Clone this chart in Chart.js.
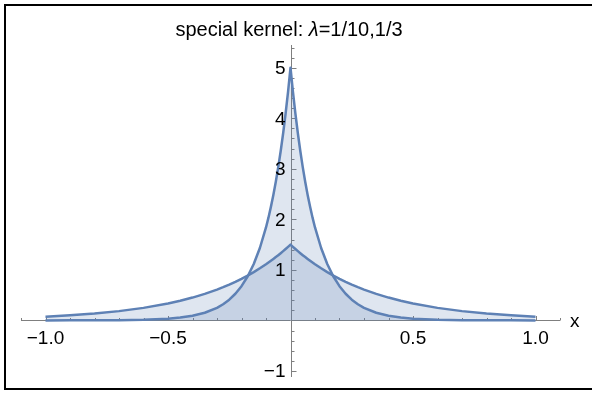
<!DOCTYPE html>
<html>
<head>
<meta charset="utf-8">
<script src="https://cdn.jsdelivr.net/npm/chart.js@4.4.1/dist/chart.umd.min.js"></script>
<style>
    html, body { margin: 0; padding: 0; background: #fff; }
    #wrap { width: 592px; height: 393px; }
</style>
</head>
<body>
<div id="wrap"><canvas id="kernelChart" width="592" height="393"></canvas></div>
<script>
// sample positions along x
const xs = [-1, -0.9, -0.8, -0.7, -0.6, -0.5, -0.45, -0.4, -0.35, -0.3, -0.275, -0.25, -0.225, -0.2,
    -0.175, -0.15, -0.125, -0.1, -0.09, -0.08, -0.07, -0.06, -0.05, -0.04, -0.03, -0.02, -0.01, 0,
    0.01, 0.02, 0.03, 0.04, 0.05, 0.06, 0.07, 0.08, 0.09, 0.1, 0.125, 0.15, 0.175, 0.2,
    0.225, 0.25, 0.275, 0.3, 0.35, 0.4, 0.45, 0.5, 0.6, 0.7, 0.8, 0.9, 1];

// lambda = 1/10 (tall narrow peak)
const narrowKernel = [0.0002, 0.0006, 0.0017, 0.0046, 0.0124, 0.0337, 0.0555, 0.0916, 0.151, 0.249, 0.320, 0.410, 0.527, 0.677,
    0.869, 1.116, 1.433, 1.839, 2.033, 2.247, 2.483, 2.744, 3.033, 3.352, 3.704, 4.094, 4.524, 5,
    4.524, 4.094, 3.704, 3.352, 3.033, 2.744, 2.483, 2.247, 2.033, 1.839, 1.433, 1.116, 0.869, 0.677,
    0.527, 0.410, 0.320, 0.249, 0.151, 0.0916, 0.0555, 0.0337, 0.0124, 0.0046, 0.0017, 0.0006, 0.0002];

// lambda = 1/3 (low wide peak)
const wideKernel = [0.0747, 0.1008, 0.1361, 0.1837, 0.2479, 0.3347, 0.3889, 0.4518, 0.5249, 0.6099, 0.6574, 0.7086, 0.7637, 0.8232,
    0.8873, 0.9564, 1.0309, 1.1112, 1.1451, 1.1799, 1.2159, 1.2529, 1.2911, 1.3304, 1.3709, 1.4126, 1.4557, 1.5,
    1.4557, 1.4126, 1.3709, 1.3304, 1.2911, 1.2529, 1.2159, 1.1799, 1.1451, 1.1112, 1.0309, 0.9564, 0.8873, 0.8232,
    0.7637, 0.7086, 0.6574, 0.6099, 0.5249, 0.4518, 0.3889, 0.3347, 0.2479, 0.1837, 0.1361, 0.1008, 0.0747];

const xTickValues = [-1, -0.5, 0.5, 1];
const xTickLabels = ['\u22121.0', '\u22120.5', '0.5', '1.0'];
const yTickValues = [-1, 1, 2, 3, 4, 5];
const yTickLabels = ['\u22121', '1', '2', '3', '4', '5'];

const lineColor = '#5e81b5';
const fillColor = 'rgba(94, 129, 181, 0.2)';
const axisColor = '#7f7f7f';
const font = '"Liberation Sans", Arial, sans-serif';

function toPoints(ys) {
    return xs.map((x, i) => ({ x: x, y: ys[i] }));
}

// axes through the origin with Mathematica-style inward ticks
const axesPlugin = {
    id: 'axesPlugin',
    beforeDatasetsDraw(chart) {
        const ctx = chart.ctx;
        const sx = chart.scales.x;
        const sy = chart.scales.y;
        const x0 = Math.round(sx.getPixelForValue(0)) + 0.5;
        const y0 = Math.round(sy.getPixelForValue(0)) + 0.5;
        ctx.save();
        ctx.strokeStyle = axisColor;
        ctx.lineWidth = 1;
        ctx.beginPath();
        ctx.moveTo(sx.left, y0);
        ctx.lineTo(sx.right, y0);
        ctx.moveTo(x0, sy.top);
        ctx.lineTo(x0, sy.bottom);
        // x ticks, every 0.1, longer on the 0.5 marks
        for (let i = -11; i <= 11; i++) {
            if (i === 0) continue;
            const px = Math.round(sx.getPixelForValue(i / 10)) + 0.5;
            const len = (i % 5 === 0) ? 4.5 : 2.5;
            ctx.moveTo(px, y0);
            ctx.lineTo(px, y0 - len);
        }
        // y ticks, every 0.2, longer on whole numbers
        for (let j = -5; j <= 27; j++) {
            if (j === 0) continue;
            const py = Math.round(sy.getPixelForValue(j / 5)) + 0.5;
            const len = (j % 5 === 0) ? 5 : 3;
            ctx.moveTo(x0, py);
            ctx.lineTo(x0 + len, py);
        }
        ctx.stroke();
        ctx.restore();
    },
    afterDraw(chart) {
        const ctx = chart.ctx;
        const sx = chart.scales.x;
        const sy = chart.scales.y;
        const x0 = sx.getPixelForValue(0);
        const y0 = sy.getPixelForValue(0);
        ctx.save();
        ctx.fillStyle = '#000';
        ctx.font = '19px ' + font;

        ctx.textAlign = 'center';
        ctx.textBaseline = 'middle';
        xTickValues.forEach((v, i) => {
            ctx.fillText(xTickLabels[i], sx.getPixelForValue(v), y0 + 18);
        });

        ctx.textAlign = 'right';
        yTickValues.forEach((v, i) => {
            ctx.fillText(yTickLabels[i], x0 - 5, sy.getPixelForValue(v) + 1);
        });

        ctx.textAlign = 'left';
        ctx.fillText('x', sx.right + 10, y0 + 1);

        // title with italic lambda
        const parts = [
            { t: 'special kernel: ', f: '20px ' + font },
            { t: '\u03bb', f: 'italic 20px ' + font },
            { t: '=1/10,1/3', f: '20px ' + font }
        ];
        let total = 0;
        parts.forEach(p => { ctx.font = p.f; total += ctx.measureText(p.t).width; });
        let tx = 289 - total / 2;
        parts.forEach(p => {
            ctx.font = p.f;
            ctx.fillText(p.t, tx, 30);
            tx += ctx.measureText(p.t).width;
        });

        // image frame (left, top, bottom)
        ctx.strokeStyle = '#000';
        ctx.lineWidth = 2;
        ctx.beginPath();
        ctx.moveTo(592, 5);
        ctx.lineTo(5, 5);
        ctx.lineTo(5, 389);
        ctx.lineTo(592, 389);
        ctx.stroke();
        ctx.restore();
    }
};

const ctx = document.getElementById('kernelChart').getContext('2d');
new Chart(ctx, {
    type: 'line',
    data: {
        datasets: [
            {
                label: 'lambda = 1/10',
                data: toPoints(narrowKernel),
                borderColor: lineColor,
                backgroundColor: fillColor,
                borderWidth: 2.5,
                borderJoinStyle: 'round',
                fill: 'origin',
                pointRadius: 0,
                tension: 0
            },
            {
                label: 'lambda = 1/3',
                data: toPoints(wideKernel),
                borderColor: lineColor,
                backgroundColor: fillColor,
                borderWidth: 2.5,
                borderJoinStyle: 'round',
                fill: 'origin',
                pointRadius: 0,
                tension: 0
            }
        ]
    },
    options: {
        responsive: false,
        animation: false,
        devicePixelRatio: 1,
        layout: {
            padding: { left: 21, right: 32, top: 45, bottom: 16 }
        },
        scales: {
            x: { type: 'linear', min: -1.1, max: 1.1, display: false },
            y: { type: 'linear', min: -1.12, max: 5.45, display: false }
        },
        plugins: {
            legend: { display: false },
            tooltip: { enabled: false }
        }
    },
    plugins: [axesPlugin]
});
</script>
</body>
</html>
